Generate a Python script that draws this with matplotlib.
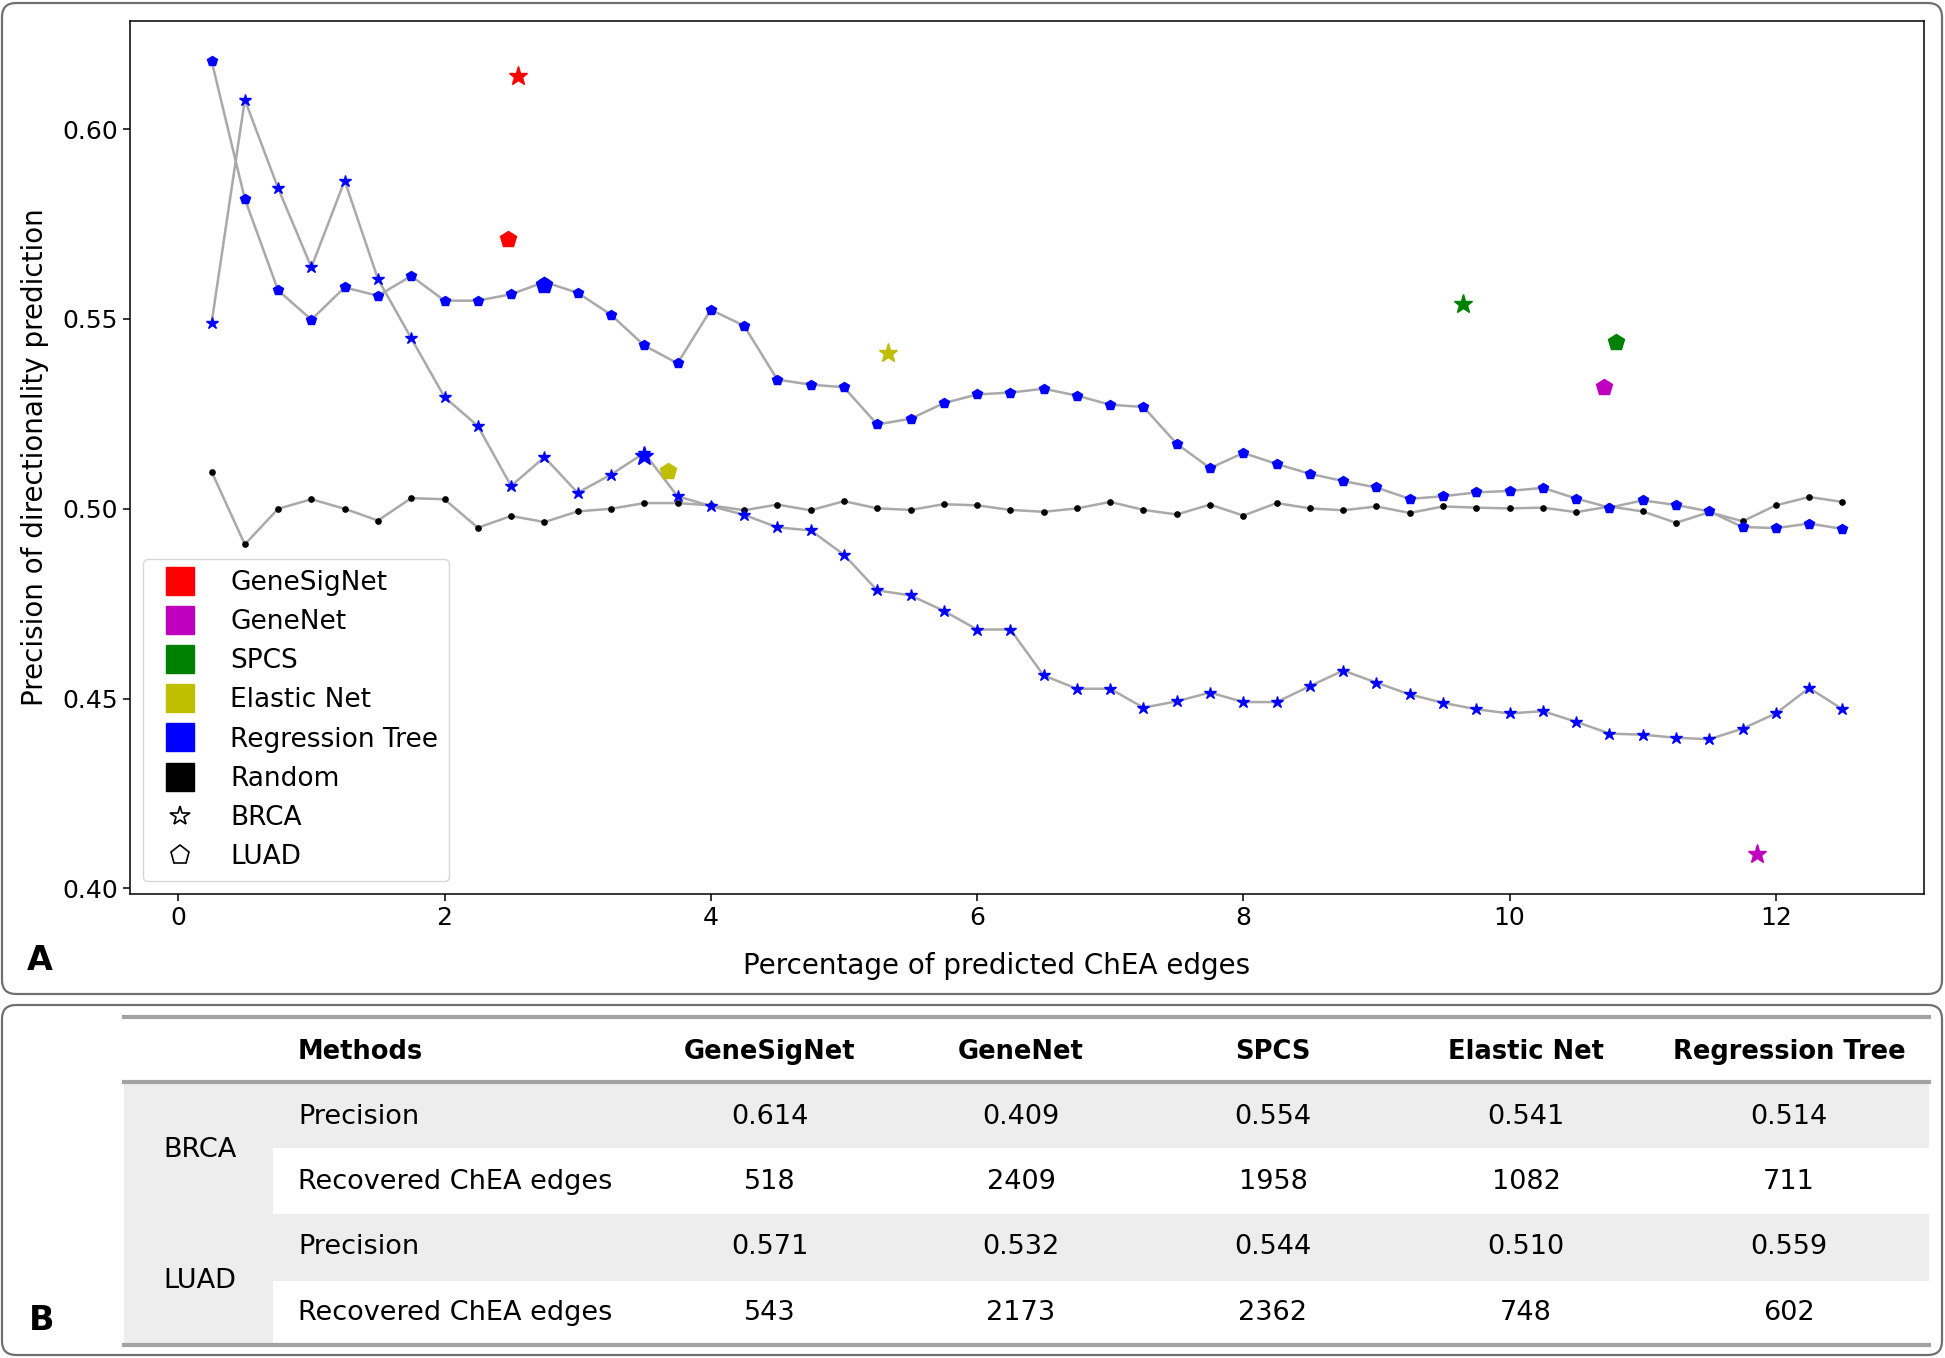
import numpy as np
import matplotlib.pyplot as plt
from matplotlib.patches import FancyBboxPatch, Rectangle
from matplotlib.lines import Line2D

# x axis: percentage of predicted ChEA edges
pct = [0.25, 0.5, 0.75, 1.0, 1.25, 1.5, 1.75, 2.0, 2.25, 2.5,
       2.75, 3.0, 3.25, 3.5, 3.75, 4.0, 4.25, 4.5, 4.75, 5.0,
       5.25, 5.5, 5.75, 6.0, 6.25, 6.5, 6.75, 7.0, 7.25, 7.5,
       7.75, 8.0, 8.25, 8.5, 8.75, 9.0, 9.25, 9.5, 9.75, 10.0,
       10.25, 10.5, 10.75, 11.0, 11.25, 11.5, 11.75, 12.0, 12.25, 12.5]

# regression tree, LUAD (pentagons)
rt_luad = [0.618, 0.5816, 0.5575, 0.5498, 0.5583, 0.5561, 0.5613, 0.5548, 0.5548, 0.5565,
           0.5597, 0.5569, 0.5511, 0.5430, 0.5383, 0.5524, 0.5482, 0.5340, 0.5327, 0.5320,
           0.5222, 0.5237, 0.5278, 0.5301, 0.5306, 0.5316, 0.5298, 0.5274, 0.5268, 0.5171,
           0.5107, 0.5147, 0.5118, 0.5092, 0.5073, 0.5056, 0.5026, 0.5033, 0.5043, 0.5047,
           0.5055, 0.5027, 0.5003, 0.5022, 0.5010, 0.4993, 0.4952, 0.4949, 0.4961, 0.4947]

# regression tree, BRCA (stars)
rt_brca = [0.5489, 0.6077, 0.5844, 0.5636, 0.5864, 0.5605, 0.5449, 0.5294, 0.5218, 0.5060,
           0.5136, 0.5042, 0.5090, 0.5147, 0.5033, 0.5007, 0.4984, 0.4951, 0.4943, 0.4879,
           0.4785, 0.4772, 0.4731, 0.4682, 0.4682, 0.4561, 0.4526, 0.4526, 0.4476, 0.4493,
           0.4516, 0.4491, 0.4491, 0.4533, 0.4574, 0.4542, 0.4511, 0.4489, 0.4472, 0.4461,
           0.4467, 0.4439, 0.4408, 0.4405, 0.4397, 0.4393, 0.4421, 0.4461, 0.4528, 0.4472]

# random baseline
rand = [0.5098, 0.4906, 0.5000, 0.5025, 0.5000, 0.4969, 0.5028, 0.5025, 0.4950, 0.4981,
        0.4965, 0.4993, 0.5000, 0.5015, 0.5015, 0.5009, 0.4996, 0.5011, 0.4996, 0.5020,
        0.5001, 0.4997, 0.5012, 0.5009, 0.4997, 0.4992, 0.5001, 0.5018, 0.4997, 0.4985,
        0.5011, 0.4982, 0.5015, 0.5001, 0.4996, 0.5006, 0.4989, 0.5006, 0.5003, 0.5001,
        0.5003, 0.4991, 0.5006, 0.4993, 0.4963, 0.4991, 0.4967, 0.5009, 0.5031, 0.5018]

methods = ['GeneSigNet', 'GeneNet', 'SPCS', 'Elastic Net', 'Regression Tree']
colors = ['r', 'm', 'g', 'y', 'b']
brca_prec = [0.614, 0.409, 0.554, 0.541, 0.514]
luad_prec = [0.571, 0.532, 0.544, 0.510, 0.559]
brca_edges = [518, 2409, 1958, 1082, 711]
luad_edges = [543, 2173, 2362, 748, 602]
brca_pct = [2.55, 11.86, 9.65, 5.33, 3.5]
luad_pct = [2.48, 10.71, 10.80, 3.68, 2.75]

fig = plt.figure(figsize=(19.45, 13.58), dpi=100)

# background axes in pixel coords for the panel frames + table
bg = fig.add_axes([0, 0, 1, 1], zorder=0)
bg.set_xlim(0, 1945)
bg.set_ylim(1358, 0)
bg.axis('off')

ax = fig.add_axes([130/1945, 1-894/1358, 1794/1945, 873/1358], zorder=1)

lc = 'darkgray'
ax.plot(pct, rand, color=lc, lw=1.8, marker='o', ms=3.8, mfc='k', mec='k')
ax.plot(pct, rt_luad, color=lc, lw=1.8, marker='p', ms=7.5, mfc='b', mec='b')
ax.plot(pct, rt_brca, color=lc, lw=1.8, marker='*', ms=9, mfc='b', mec='b')

for i in range(len(methods)):
    ax.plot(brca_pct[i], brca_prec[i], marker='*', ms=14, color=colors[i], ls='none')
    ax.plot(luad_pct[i], luad_prec[i], marker='p', ms=12, color=colors[i], ls='none')

ax.set_yticks([0.40, 0.45, 0.50, 0.55, 0.60])
ax.set_xticks([0, 2, 4, 6, 8, 10, 12])
ax.tick_params(labelsize=18, length=5, width=1.1)
for s in ax.spines.values():
    s.set_linewidth(1.1)
ax.set_xlabel('Percentage of predicted ChEA edges', fontsize=20)
ax.xaxis.set_label_coords(0.483, -0.067)
ax.set_ylabel('Precision of directionality prediction', fontsize=20, labelpad=10)

handles = [Line2D([], [], ls='none', marker='s', ms=20, color=c) for c in colors]
handles.append(Line2D([], [], ls='none', marker='s', ms=20, color='k'))
handles.append(Line2D([], [], ls='none', marker='*', ms=15, mfc='white', mec='k', mew=1.2))
handles.append(Line2D([], [], ls='none', marker='p', ms=14, mfc='white', mec='k', mew=1.2))
labels = methods + ['Random', 'BRCA', 'LUAD']
ax.legend(handles, labels, loc='lower left', fontsize=19, labelspacing=0.5,
          handletextpad=0.9)

# panel frames
for (y0, y1) in [(3, 994), (1005, 1355)]:
    bg.add_patch(FancyBboxPatch((2, y0), 1940, y1 - y0,
                                boxstyle='round,pad=0,rounding_size=14',
                                fill=False, ec='#707070', lw=1.6))
bg.text(27, 960, 'A', fontsize=24, fontweight='bold', ha='left', va='center')
bg.text(29, 1321, 'B', fontsize=24, fontweight='bold', ha='left', va='center')

# table B
tl, tr = 124, 1929
shade = '#ededed'
bg.add_patch(Rectangle((tl, 1084), tr - tl, 1148 - 1084, color=shade, lw=0))
bg.add_patch(Rectangle((tl, 1214), tr - tl, 1281 - 1214, color=shade, lw=0))
bg.add_patch(Rectangle((tl, 1084), 273 - tl, 1343 - 1084, color=shade, lw=0))
for yy in [1017, 1082, 1345]:
    bg.plot([tl, tr], [yy, yy], color='#a3a3a3', lw=3)

col_x = [770, 1021, 1273, 1526, 1789]
fs = 19.5
bg.text(298, 1052, 'Methods', fontsize=18.5, fontweight='bold', ha='left', va='center')
for m, cx in zip(methods, col_x):
    bg.text(cx, 1052, m, fontsize=18.5, fontweight='bold', ha='center', va='center')

rows = [(1117, 'Precision', ['%.3f' % v for v in brca_prec]),
        (1182, 'Recovered ChEA edges', [str(v) for v in brca_edges]),
        (1247, 'Precision', ['%.3f' % v for v in luad_prec]),
        (1313, 'Recovered ChEA edges', [str(v) for v in luad_edges])]
for yy, name, vals in rows:
    bg.text(298, yy, name, fontsize=fs, ha='left', va='center')
    for v, cx in zip(vals, col_x):
        bg.text(cx, yy, v, fontsize=fs, ha='center', va='center')
bg.text(163, 1150, 'BRCA', fontsize=fs, ha='left', va='center')
bg.text(163, 1281, 'LUAD', fontsize=fs, ha='left', va='center')

fig.savefig('out.png', dpi=100)
